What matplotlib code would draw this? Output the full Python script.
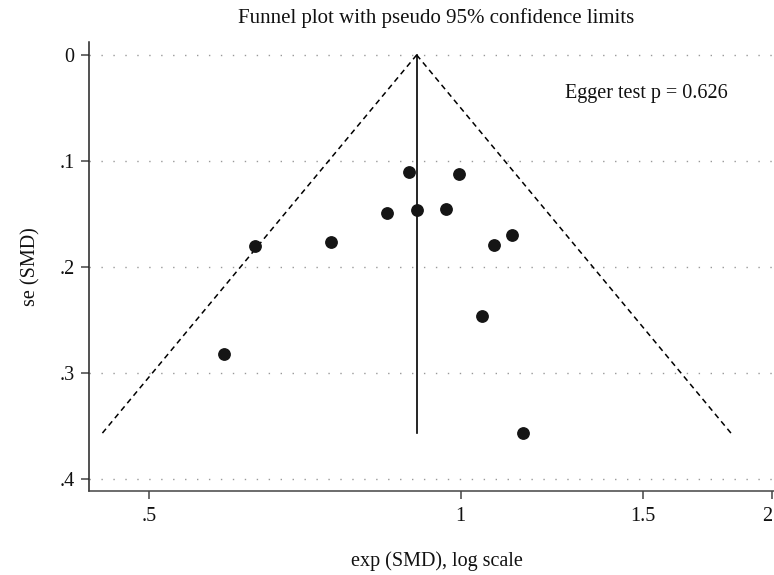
import numpy as np
import matplotlib
matplotlib.use('Agg')
import matplotlib.pyplot as plt
from matplotlib.ticker import FixedLocator, FixedFormatter, NullLocator

# ---- data ----
study_smd = [-0.114, -0.003, -0.165, -0.098, -0.033, -0.458, -0.289, -0.526,
             0.113, 0.073, 0.047, 0.138]
study_se = [0.110, 0.112, 0.149, 0.146, 0.145, 0.180, 0.176, 0.282,
            0.170, 0.179, 0.246, 0.357]
pooled_smd = -0.098
z_crit = 1.96
x_ticks = [0.5, 1, 1.5, 2]
x_tick_labels = ['.5', '1', '1.5', '2']
y_ticks = [0, 0.1, 0.2, 0.3, 0.4]
y_tick_labels = ['0', '.1', '.2', '.3', '.4']
title_text = 'Funnel plot with pseudo 95% confidence limits'
x_label = 'exp (SMD), log scale'
y_label = 'se (SMD)'
egger_text = 'Egger test p = 0.626'
egger_se = 0.036

plt.rcParams['font.family'] = ['Liberation Serif', 'DejaVu Serif']
plt.rcParams['lines.scale_dashes'] = False
FS = 14.5

fig = plt.figure(figsize=(7.74, 5.75), dpi=100)
ax = fig.add_axes([89.4 / 774, 84.3 / 575, (774 - 89.4) / 774, 449 / 575])

# funnel limits
se_max = max(study_se)
se_line = np.array([0.0, se_max])
ax.plot(np.exp(pooled_smd - z_crit * se_line), se_line, color='black', lw=1.1,
        linestyle=(0, (4, 3)), zorder=3)
ax.plot(np.exp(pooled_smd + z_crit * se_line), se_line, color='black', lw=1.1,
        linestyle=(0, (4, 3)), zorder=3)
# pooled estimate
ax.plot([np.exp(pooled_smd)] * 2, se_line, color='black', lw=1.2, zorder=3)

# studies
ax.plot(np.exp(study_smd), study_se, linestyle='none', marker='o',
        markersize=8.2, color='#151515', zorder=4)

ax.set_xscale('log')
ax.set_xlim(0.4378, 2.0074)
ax.set_ylim(0.411, -0.0125)

ax.xaxis.set_major_locator(FixedLocator(x_ticks))
ax.xaxis.set_major_formatter(FixedFormatter(x_tick_labels))
ax.xaxis.set_minor_locator(NullLocator())
ax.set_yticks(y_ticks)
ax.set_yticklabels(y_tick_labels)

ax.grid(axis='y', color='#999999', linestyle=(0, (1, 7.6)), lw=1.0)
ax.grid(axis='x', visible=False)

for s in ['top', 'right']:
    ax.spines[s].set_visible(False)
ax.spines['left'].set_color('#222222')
ax.spines['bottom'].set_color('#444444')
ax.spines['left'].set_linewidth(1.1)
ax.spines['bottom'].set_linewidth(1.1)

ax.tick_params(axis='both', direction='out', length=5.8, width=1.1,
               color='#444444', labelsize=FS, labelcolor='#111111')
ax.tick_params(axis='y', pad=5.0)
ax.tick_params(axis='x', pad=6.0)

# keep the last x label (at the right edge) inside the picture
xlabels = ax.get_xticklabels()
xlabels[-1].set_horizontalalignment('right')

ax.set_xlabel(x_label, fontsize=FS, color='#111111')
ax.xaxis.set_label_coords(0.508, -0.135)
ax.set_ylabel(y_label, fontsize=FS, color='#111111')
ax.yaxis.set_label_coords(-0.072, 0.5)

fig.text(436 / 774, 1 - 18 / 575, title_text, ha='center', va='center',
         fontsize=15, color='#111111')
ax.text(0.695, egger_se, egger_text, transform=ax.get_yaxis_transform(),
        ha='left', va='center', fontsize=FS, color='#111111')

fig.savefig('out.png', dpi=100)
